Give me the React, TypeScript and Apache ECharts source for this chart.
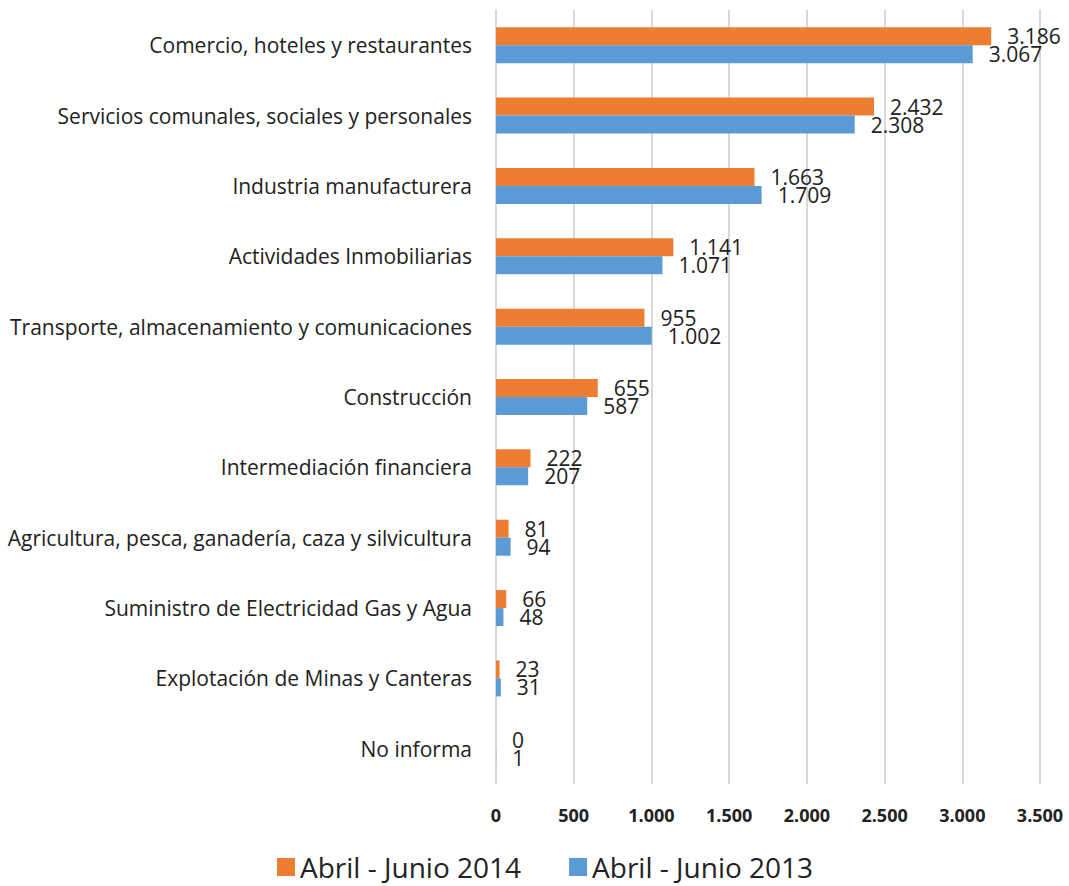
import React, { useEffect, useRef } from "react";
import * as echarts from "echarts";

const categories = [
  "Comercio, hoteles y restaurantes",
  "Servicios comunales, sociales y personales",
  "Industria manufacturera",
  "Actividades Inmobiliarias",
  "Transporte, almacenamiento y comunicaciones",
  "Construcción",
  "Intermediación financiera",
  "Agricultura, pesca, ganadería, caza y silvicultura",
  "Suministro de Electricidad Gas y Agua",
  "Explotación de Minas y Canteras",
  "No informa",
];
const values2014 = [3186, 2432, 1663, 1141, 955, 655, 222, 81, 66, 23, 0];
const values2013 = [3067, 2308, 1709, 1071, 1002, 587, 207, 94, 48, 31, 1];
const seriesNames = ["Abril - Junio 2014", "Abril - Junio 2013"];

const fmt = (v: number) => String(v).replace(/\B(?=(\d{3})+(?!\d))/g, ".");
const FONT = "'Open Sans', sans-serif";

export default function App() {
  const ref = useRef<HTMLDivElement>(null);
  useEffect(() => {
    document.body.style.margin = "0";
    const chart = echarts.init(ref.current!, null, { renderer: "svg" });
    const label = {
      show: true,
      position: "right" as const,
      distance: 16,
      fontSize: 21,
      lineHeight: 18,
      color: "#222",
      fontFamily: FONT,
      formatter: (p: any) => fmt(p.value),
    };
    chart.setOption({
      animation: false,
      textStyle: { fontFamily: FONT },
      grid: { left: 496, right: 29, top: 10, height: 774, containLabel: false },
      legend: {
        top: 852,
        left: 277,
        padding: 0,
        itemWidth: 18,
        itemHeight: 18,
        itemGap: 48,
        icon: "rect",
        textStyle: { fontSize: 28, lineHeight: 30, color: "#222", fontFamily: FONT },
        data: seriesNames,
      },
      xAxis: {
        type: "value",
        min: 0,
        max: 3500,
        interval: 500,
        axisLine: { show: false },
        axisTick: { show: false },
        splitLine: { lineStyle: { color: "#d9d9d9", width: 2 } },
        axisLabel: {
          margin: 22,
          fontSize: 18,
          fontWeight: "bold",
          color: "#222",
          fontFamily: FONT,
          formatter: (v: number) => fmt(v),
        },
      },
      yAxis: {
        type: "category",
        inverse: true,
        data: categories,
        axisLine: { show: false },
        axisTick: { show: false },
        axisLabel: { margin: 24, fontSize: 21, color: "#222", fontFamily: FONT },
      },
      series: [
        {
          name: seriesNames[0],
          type: "bar",
          data: values2014,
          barWidth: 18,
          barGap: "0%",
          itemStyle: { color: "#ED7D31" },
          label,
        },
        {
          name: seriesNames[1],
          type: "bar",
          data: values2013,
          barWidth: 18,
          barGap: "0%",
          itemStyle: { color: "#5B9BD5" },
          label,
        },
      ],
    });
    return () => chart.dispose();
  }, []);
  return <div ref={ref} style={{ width: 1069, height: 886 }} />;
}
